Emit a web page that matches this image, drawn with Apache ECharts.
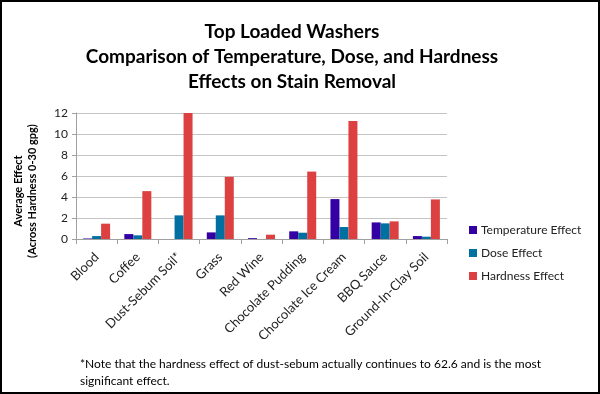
<!DOCTYPE html>
<html><head><meta charset="utf-8">
<script src="https://cdn.jsdelivr.net/npm/echarts@6/dist/echarts.min.js"></script>
<style>html,body{margin:0;padding:0;background:#fff}#c{width:600px;height:394px;box-sizing:border-box;}</style>
</head><body><div id="c"></div>
<script>
const categories = ['Blood','Coffee','Dust-Sebum Soil*','Grass','Red Wine','Chocolate Pudding','Chocolate Ice Cream','BBQ Sauce','Ground-In-Clay Soil'];
const temperatureEffect = [0.05,0.47,0,0.63,0.08,0.73,3.8,1.58,0.28];
const doseEffect = [0.28,0.35,2.25,2.25,0,0.6,1.14,1.49,0.22];
const hardnessEffect = [1.46,4.56,12,5.92,0.41,6.42,11.23,1.68,3.77];
const yTicks = [0,2,4,6,8,10,12];

const font = 'Lato, "Open Sans", sans-serif';
const chart = echarts.init(document.getElementById('c'));
chart.setOption({
  animation:false,
  backgroundColor:'#fff',
  title:{text:'Top Loaded Washers\nComparison of Temperature, Dose, and Hardness\nEffects on Stain Removal',left:287,textAlign:'center',top:14,
    textStyle:{fontFamily:font,fontSize:19,fontWeight:'bold',color:'#000',lineHeight:25}},
  legend:{orient:'vertical',left:464,top:219,itemWidth:8,itemHeight:8,itemGap:11,icon:'rect',
    textStyle:{fontFamily:font,fontSize:12,color:'#222',padding:[0,0,0,-1]},
    data:['Temperature Effect','Dose Effect','Hardness Effect']},
  grid:{left:76,right:153,top:113,bottom:155},
  xAxis:{type:'category',data:categories,
    axisLine:{lineStyle:{color:'#a0a0a0'}},
    axisTick:{show:true,length:5,lineStyle:{color:'#a0a0a0'}},
    axisLabel:{rotate:45,fontFamily:font,fontSize:13,color:'#222',margin:16,interval:0}},
  yAxis:{type:'value',min:yTicks[0],max:yTicks[yTicks.length-1],interval:2,
    axisLine:{show:true,lineStyle:{color:'#a0a0a0'}},
    axisTick:{show:true,length:4,lineStyle:{color:'#a0a0a0'}},
    splitLine:{lineStyle:{color:'#c4c4c4'}},
    axisLabel:{fontFamily:font,fontSize:12,color:'#222',margin:8}},
  series:[
    {name:'Temperature Effect',type:'bar',data:temperatureEffect,itemStyle:{color:'#3400a3'},barWidth:9,barGap:'0%'},
    {name:'Dose Effect',type:'bar',data:doseEffect,itemStyle:{color:'#0070a0'},barWidth:9,barGap:'0%'},
    {name:'Hardness Effect',type:'bar',data:hardnessEffect,itemStyle:{color:'#dd4040'},barWidth:9,barGap:'0%'}
  ],
  graphic:[
    {type:'rect',shape:{x:1,y:1,width:598,height:392},style:{fill:'none',stroke:'#000',lineWidth:2},silent:true},
    {type:'text',x:25,y:191,rotation:Math.PI/2,style:{text:'Average Effect\n(Across Hardness 0-30 gpg)',
      font:'bold 11px '+font,fill:'#000',lineHeight:14,align:'center',verticalAlign:'middle'}},
    {type:'text',left:80,top:356,style:{text:'*Note that the hardness effect of dust-sebum actually continues to 62.6 and is the most\nsignificant effect.',
      font:'12px '+font,fill:'#000',lineHeight:17}}
  ]
});
</script></body></html>
